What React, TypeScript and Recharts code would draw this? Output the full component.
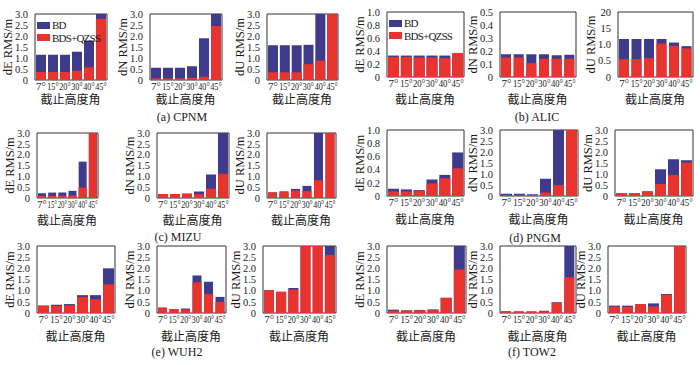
import React from 'react';
import { BarChart, Bar, XAxis, YAxis, ReferenceArea, Legend } from 'recharts';

const angles = ['7°', '15°', '20°', '30°', '40°', '45°'];

// BD = BDS only, BQ = BDS+QZSS (values in m, >3 are clipped by the axis)
const cpnmE_BD = [1.15, 1.15, 1.15, 1.28, 1.8, 3.5];
const cpnmE_BQ = [0.36, 0.36, 0.36, 0.42, 0.58, 2.78];
const cpnmN_BD = [0.56, 0.56, 0.56, 0.62, 1.9, 3.5];
const cpnmN_BQ = [0.08, 0.08, 0.08, 0.1, 0.15, 2.45];
const cpnmU_BD = [1.58, 1.58, 1.58, 1.6, 3.5, 3.5];
const cpnmU_BQ = [0.35, 0.35, 0.35, 0.72, 0.88, 3.5];

const alicE_BD = [0.33, 0.33, 0.33, 0.33, 0.33, 0.34];
const alicE_BQ = [0.31, 0.31, 0.3, 0.3, 0.29, 0.37];
const alicN_BD = [0.175, 0.175, 0.175, 0.175, 0.168, 0.172];
const alicN_BQ = [0.15, 0.15, 0.107, 0.14, 0.14, 0.14];
const alicU_BD = [1.17, 1.17, 1.17, 1.17, 1.06, 0.95];
const alicU_BQ = [0.55, 0.55, 0.58, 1.03, 0.96, 0.88];

const mizuE_BD = [0.22, 0.25, 0.25, 0.33, 1.68, 3.5];
const mizuE_BQ = [0.1, 0.1, 0.1, 0.12, 0.48, 3.5];
const mizuN_BD = [0.18, 0.18, 0.21, 0.3, 1.08, 3.5];
const mizuN_BQ = [0.18, 0.18, 0.18, 0.17, 0.43, 1.12];
const mizuU_BD = [0.26, 0.3, 0.42, 0.56, 3.5, 3.5];
const mizuU_BQ = [0.26, 0.3, 0.35, 0.32, 0.82, 3.5];

const pngmE_BD = [0.11, 0.1, 0.09, 0.25, 0.32, 0.66];
const pngmE_BQ = [0.07, 0.07, 0.08, 0.19, 0.27, 0.42];
const pngmN_BD = [0.1, 0.1, 0.08, 0.78, 3.5, 3.5];
const pngmN_BQ = [0.05, 0.05, 0.05, 0.16, 0.5, 3.5];
const pngmU_BD = [0.12, 0.12, 0.22, 1.22, 1.67, 1.62];
const pngmU_BQ = [0.12, 0.12, 0.18, 0.55, 0.95, 1.52];

const wuh2E_BD = [0.33, 0.37, 0.4, 0.8, 0.8, 2.0];
const wuh2E_BQ = [0.33, 0.32, 0.35, 0.72, 0.62, 1.28];
const wuh2N_BD = [0.24, 0.18, 0.2, 1.68, 1.4, 0.72];
const wuh2N_BQ = [0.24, 0.18, 0.16, 1.38, 0.86, 0.5];
const wuh2U_BD = [1.02, 0.95, 1.12, 3.5, 3.5, 3.5];
const wuh2U_BQ = [1.02, 0.95, 1.05, 3.5, 3.5, 2.6];

const tow2E_BD = [0.15, 0.12, 0.13, 0.16, 0.68, 3.5];
const tow2E_BQ = [0.1, 0.1, 0.12, 0.14, 0.68, 1.95];
const tow2N_BD = [0.08, 0.07, 0.07, 0.1, 0.48, 3.5];
const tow2N_BQ = [0.05, 0.07, 0.07, 0.08, 0.47, 1.6];
const tow2U_BD = [0.33, 0.33, 0.4, 0.43, 0.85, 3.5];
const tow2U_BQ = [0.28, 0.28, 0.4, 0.3, 0.82, 3.5];

const ticks3 = [0, 0.5, 1, 1.5, 2, 2.5, 3];
const ticks1 = [0, 0.2, 0.4, 0.6, 0.8, 1];
const ticks05 = [0, 0.1, 0.2, 0.3, 0.4, 0.5];
const ticks2 = [0, 0.5, 1, 1.5, 2];
const ticks2Labels = ['0', '0.5', '1.0', '15', '20'];

const BLUE = '#3E3A8C';
const RED = '#E8332F';
const INK = '#1a1a1a';
const SERIF = '"Liberation Serif", "Times New Roman", "Noto Sans CJK SC", serif';

const YW = 30;
const MT = 8;
const MR = 3;
const XH = 34;

const LegendBox = ({ payload }: any) => (
    <div style={{ fontFamily: SERIF, fontSize: 11, lineHeight: '12.5px', letterSpacing: -0.8, color: INK }}>
        {(payload || []).map((e: any) => (
            <div key={e.value} style={{ display: 'flex', alignItems: 'center', height: 12.5 }}>
                <span style={{ display: 'inline-block', width: 13, height: 7, background: e.color, marginRight: 2 }} />
                <span>{e.value}</span>
            </div>
        ))}
    </div>
);

// x tick squeezed into its band, like the narrow labels of the original
const AngleTick = ({ x, y, payload, band }: any) => {
    const label = String(payload.value);
    const natural = label.length === 2 ? 9.9 : 15.4;
    const sx = Math.min(1, (band - 0.6) / natural);
    return (
        <g transform={`translate(${x},${y}) scale(${sx},1)`}>
            <text x={0} y={0} dy="0.71em" textAnchor="middle" fontSize={11} fontFamily={SERIF} fill={INK}>
                {label}
            </text>
        </g>
    );
};

type PanelProps = {
    comp: string;
    bd: number[];
    bq: number[];
    max: number;
    ticks: number[];
    labels?: string[];
    left: number;
    right: number;
    top: number;
    bottom: number;
    titleDy: number;
    legend?: boolean;
};

const Panel = (p: PanelProps) => {
    const data = angles.map((a, i) => ({ angle: a, BD: p.bd[i], 'BDS+QZSS': p.bq[i] }));
    const pw = p.right - p.left;
    const band = (pw - 9) / 6;
    const bs = Math.round(band * 0.82);
    const fmt = (v: number) => {
        if (p.labels) return p.labels[p.ticks.indexOf(v)] ?? '';
        return v === 0 ? '0' : v.toFixed(1);
    };

    return (
        <div style={{ position: 'absolute', left: p.left - YW, top: p.top - MT }}>
            <BarChart
                width={pw + YW + MR}
                height={p.bottom - p.top + MT + XH}
                data={data}
                margin={{ top: MT, right: MR, left: 0, bottom: 0 }}
                barSize={bs}
                barGap={-bs}
            >
                <XAxis
                    dataKey="angle"
                    interval={0}
                    tickLine={false}
                    axisLine={false}
                    tickSize={2}
                    tickMargin={0}
                    height={XH}
                    padding={{ left: 5, right: 4 }}
                    tick={(tp: any) => <AngleTick {...tp} band={band} />}
                    label={{
                        value: '截止高度角',
                        position: 'insideBottom',
                        offset: XH - p.titleDy - 4.5,
                        fontSize: 12,
                        fontFamily: SERIF,
                        fill: INK,
                    }}
                />
                <YAxis
                    type="number"
                    domain={[0, p.max]}
                    allowDataOverflow
                    ticks={p.ticks}
                    interval={0}
                    tickFormatter={fmt}
                    width={YW}
                    tickLine={false}
                    axisLine={false}
                    tickSize={2}
                    tickMargin={0}
                    tick={{ fontSize: 10.5, fontFamily: SERIF, fill: INK }}
                    label={{
                        value: `${p.comp} RMS/m`,
                        angle: -90,
                        position: 'insideLeft',
                        offset: YW - 22,
                        fontSize: 12.5,
                        fontFamily: SERIF,
                        fill: INK,
                        style: { textAnchor: 'middle' },
                    }}
                />
                <Bar dataKey="BD" fill={BLUE} isAnimationActive={false} />
                <Bar dataKey="BDS+QZSS" fill={RED} isAnimationActive={false} />
                <ReferenceArea y1={0} y2={p.max} fill="none" stroke="#333" strokeWidth={1} ifOverflow="visible" />
                {p.legend && (
                    <Legend
                        layout="vertical"
                        align="center"
                        verticalAlign="middle"
                        wrapperStyle={{ left: YW + 7, top: MT + 5, width: 'auto' }}
                        content={<LegendBox />}
                    />
                )}
            </BarChart>
        </div>
    );
};

const captions = [
    { text: '(a) CPNM', x: 182, y: 117 },
    { text: '(b) ALIC', x: 537, y: 117 },
    { text: '(c) MIZU', x: 178, y: 237 },
    { text: '(d) PNGM', x: 535, y: 238 },
    { text: '(e) WUH2', x: 177, y: 352 },
    { text: '(f) TOW2', x: 532, y: 352 },
];

const panels: PanelProps[] = [
    // row 1
    { comp: 'dE', bd: cpnmE_BD, bq: cpnmE_BQ, max: 3, ticks: ticks3, left: 30, right: 111, top: 14, bottom: 80, titleDy: 19, legend: true },
    { comp: 'dN', bd: cpnmN_BD, bq: cpnmN_BQ, max: 3, ticks: ticks3, left: 145, right: 226, top: 14, bottom: 80, titleDy: 19 },
    { comp: 'dU', bd: cpnmU_BD, bq: cpnmU_BQ, max: 3, ticks: ticks3, left: 262, right: 342, top: 14, bottom: 80, titleDy: 19 },
    { comp: 'dE', bd: alicE_BD, bq: alicE_BQ, max: 1, ticks: ticks1, left: 382, right: 468, top: 12, bottom: 77, titleDy: 22, legend: true },
    { comp: 'dN', bd: alicN_BD, bq: alicN_BQ, max: 0.5, ticks: ticks05, left: 495, right: 580, top: 12, bottom: 77, titleDy: 22 },
    { comp: 'dU', bd: alicU_BD, bq: alicU_BQ, max: 2, ticks: ticks2, labels: ticks2Labels, left: 613, right: 697, top: 12, bottom: 77, titleDy: 22 },
    // row 2
    { comp: 'dE', bd: mizuE_BD, bq: mizuE_BQ, max: 3, ticks: ticks3, left: 32, right: 102, top: 133, bottom: 198, titleDy: 22 },
    { comp: 'dN', bd: mizuN_BD, bq: mizuN_BQ, max: 3, ticks: ticks3, left: 152, right: 233, top: 133, bottom: 198, titleDy: 22 },
    { comp: 'dU', bd: mizuU_BD, bq: mizuU_BQ, max: 3, ticks: ticks3, left: 262, right: 340, top: 133, bottom: 198, titleDy: 22 },
    { comp: 'dE', bd: pngmE_BD, bq: pngmE_BQ, max: 1, ticks: ticks1, left: 382, right: 468, top: 130, bottom: 196, titleDy: 23 },
    { comp: 'dN', bd: pngmN_BD, bq: pngmN_BQ, max: 3, ticks: ticks3, left: 495, right: 582, top: 130, bottom: 196, titleDy: 23 },
    { comp: 'dU', bd: pngmU_BD, bq: pngmU_BQ, max: 3, ticks: ticks3, left: 610, right: 697, top: 130, bottom: 196, titleDy: 23 },
    // row 3
    { comp: 'dE', bd: wuh2E_BD, bq: wuh2E_BQ, max: 3, ticks: ticks3, left: 32, right: 119, top: 246, bottom: 313, titleDy: 23 },
    { comp: 'dN', bd: wuh2N_BD, bq: wuh2N_BQ, max: 3, ticks: ticks3, left: 152, right: 230, top: 246, bottom: 313, titleDy: 23 },
    { comp: 'dU', bd: wuh2U_BD, bq: wuh2U_BQ, max: 3, ticks: ticks3, left: 258, right: 340, top: 246, bottom: 313, titleDy: 23 },
    { comp: 'dE', bd: tow2E_BD, bq: tow2E_BQ, max: 3, ticks: ticks3, left: 382, right: 470, top: 246, bottom: 313, titleDy: 23 },
    { comp: 'dN', bd: tow2N_BD, bq: tow2N_BQ, max: 3, ticks: ticks3, left: 495, right: 580, top: 246, bottom: 313, titleDy: 23 },
    { comp: 'dU', bd: tow2U_BD, bq: tow2U_BQ, max: 3, ticks: ticks3, left: 603, right: 690, top: 246, bottom: 313, titleDy: 23 },
];

const App = () => (
    <div style={{ position: 'absolute', left: 0, top: 0, width: 700, height: 365, background: '#fff', overflow: 'hidden' }}>
        {panels.map((p, i) => (
            <Panel key={i} {...p} />
        ))}
        {captions.map(c => (
            <div
                key={c.text}
                style={{
                    position: 'absolute',
                    left: c.x,
                    top: c.y,
                    transform: 'translate(-50%, -50%)',
                    fontFamily: SERIF,
                    fontSize: 12,
                    lineHeight: '12px',
                    color: INK,
                    whiteSpace: 'nowrap',
                }}
            >
                {c.text}
            </div>
        ))}
    </div>
);

export default App;
